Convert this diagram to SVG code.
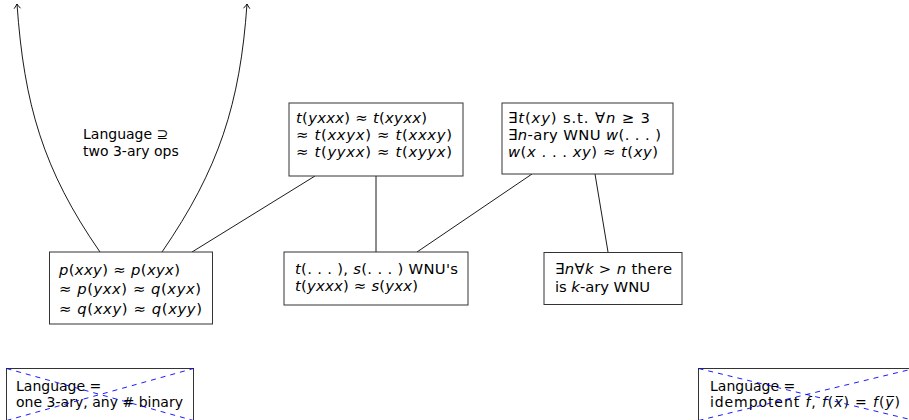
<svg xmlns="http://www.w3.org/2000/svg" width="909" height="420" viewBox="0 0 909 420">
<style>
text{font-family:"DejaVu Sans","Liberation Sans",sans-serif;font-size:14px;fill:#000}
text.m{font-size:14.8px}
.i{font-style:italic}
.box{fill:#fff;stroke:#333;stroke-width:1}
.edge{fill:none;stroke:#000;stroke-width:0.9}
.x{stroke:#0000ff;stroke-width:0.9;stroke-dasharray:5 5;fill:none}
</style>
<defs>
<marker id="to" markerUnits="userSpaceOnUse" markerWidth="12" markerHeight="12" viewBox="-6 -6 12 12" refX="0" refY="0" orient="auto">
<path d="M-4.5,-3.2 Q-1.2,-0.6 0,0 Q-1.2,0.6 -4.5,3.2" fill="none" stroke="#000" stroke-width="0.9"/>
</marker>
</defs>
<rect width="909" height="420" fill="#fff"/>
<g id="connectors">
<path class="edge" d="M100,252 C43,170 24,104 17,4" marker-end="url(#to)"/>
<path class="edge" d="M162,252 C219,169 240,104 247,4" marker-end="url(#to)"/>
<line class="edge" x1="192" y1="252" x2="315" y2="176"/>
<line class="edge" x1="376" y1="176" x2="376" y2="252"/>
<line class="edge" x1="532" y1="174" x2="417" y2="252"/>
<line class="edge" x1="595" y1="174" x2="608" y2="252"/>
</g>
<g id="label-two-ops">
<text x="83" y="139">Language ⊇</text>
<text x="83" y="155.5">two 3-ary ops</text>
</g>
<g id="node-pq">
<rect class="box" x="49.5" y="252" width="163" height="72"/>
<text class="m" x="59" y="274.5" textLength="121" lengthAdjust="spacing"><tspan class="i">p</tspan>(<tspan class="i">xxy</tspan>) ≈ <tspan class="i">p</tspan>(<tspan class="i">xyx</tspan>)</text>
<text class="m" x="59" y="294" textLength="142" lengthAdjust="spacing">≈ <tspan class="i">p</tspan>(<tspan class="i">yxx</tspan>) ≈ <tspan class="i">q</tspan>(<tspan class="i">xyx</tspan>)</text>
<text class="m" x="59" y="313.5" textLength="143" lengthAdjust="spacing">≈ <tspan class="i">q</tspan>(<tspan class="i">xxy</tspan>) ≈ <tspan class="i">q</tspan>(<tspan class="i">xyy</tspan>)</text>
</g>
<g id="node-t4">
<rect class="box" x="289" y="103" width="174" height="73"/>
<text class="m" x="296" y="123.3" textLength="131" lengthAdjust="spacing"><tspan class="i">t</tspan>(<tspan class="i">yxxx</tspan>) ≈ <tspan class="i">t</tspan>(<tspan class="i">xyxx</tspan>)</text>
<text class="m" x="296" y="140.3" textLength="156" lengthAdjust="spacing">≈ <tspan class="i">t</tspan>(<tspan class="i">xxyx</tspan>) ≈ <tspan class="i">t</tspan>(<tspan class="i">xxxy</tspan>)</text>
<text class="m" x="296" y="157.3" textLength="156" lengthAdjust="spacing">≈ <tspan class="i">t</tspan>(<tspan class="i">yyxx</tspan>) ≈ <tspan class="i">t</tspan>(<tspan class="i">xyyx</tspan>)</text>
</g>
<g id="node-exists-t">
<rect class="box" x="502" y="103" width="171" height="71"/>
<text class="m" x="508" y="123.3" textLength="142" lengthAdjust="spacing">∃<tspan class="i">t</tspan>(<tspan class="i">xy</tspan>) s.t. ∀<tspan class="i">n</tspan> ≥ 3</text>
<text class="m" x="508" y="140.3" textLength="153" lengthAdjust="spacing">∃<tspan class="i">n</tspan>-ary WNU <tspan class="i">w</tspan>(. . . )</text>
<text class="m" x="508" y="157.3" textLength="150" lengthAdjust="spacing"><tspan class="i">w</tspan>(<tspan class="i">x</tspan> . . . <tspan class="i">xy</tspan>) ≈ <tspan class="i">t</tspan>(<tspan class="i">xy</tspan>)</text>
</g>
<g id="node-ts">
<rect class="box" x="284" y="252" width="184" height="53"/>
<text class="m" x="295" y="273.7" textLength="163" lengthAdjust="spacing"><tspan class="i">t</tspan>(. . . ), <tspan class="i">s</tspan>(. . . ) WNU's</text>
<text class="m" x="295" y="291" textLength="123" lengthAdjust="spacing"><tspan class="i">t</tspan>(<tspan class="i">yxxx</tspan>) ≈ <tspan class="i">s</tspan>(<tspan class="i">yxx</tspan>)</text>
</g>
<g id="node-k">
<rect class="box" x="544" y="252.5" width="138" height="52"/>
<text class="m" x="555" y="274.3" textLength="117" lengthAdjust="spacing">∃<tspan class="i">n</tspan>∀<tspan class="i">k</tspan> &gt; <tspan class="i">n</tspan> there</text>
<text class="m" x="555" y="291.7" textLength="95" lengthAdjust="spacing">is <tspan class="i">k</tspan>-ary WNU</text>
</g>
<g id="node-lang-binary">
<rect class="box" x="6.5" y="368.5" width="187" height="52"/>
<text x="16" y="390.5">Language =</text>
<text x="16" y="407.3" textLength="167" lengthAdjust="spacing">one 3-ary, any # binary</text>
<line class="x" x1="6.5" y1="368.5" x2="193.5" y2="420.5"/>
<line class="x" x1="6.5" y1="420.5" x2="193.5" y2="368.5"/>
</g>
<g id="node-lang-idem">
<rect class="box" x="698.5" y="368.5" width="216" height="52"/>
<text x="710" y="390.5">Language =</text>
<text x="710" y="407.3" textLength="190" lengthAdjust="spacing">idempotent <tspan class="i">f</tspan>, <tspan class="i">f</tspan>(<tspan class="i">x̅</tspan>) = <tspan class="i">f</tspan>(<tspan class="i">y̅</tspan>)</text>
<line class="x" x1="698.5" y1="368.5" x2="914.5" y2="420.5"/>
<line class="x" x1="698.5" y1="420.5" x2="914.5" y2="368.5"/>
</g>
</svg>
